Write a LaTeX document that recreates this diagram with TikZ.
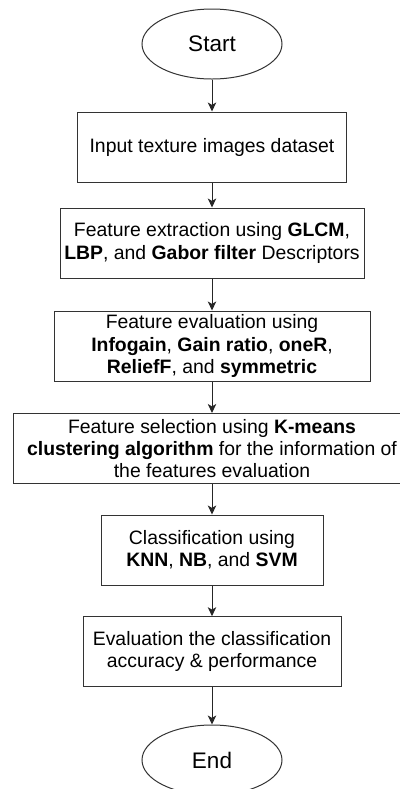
\documentclass[tikz,border=0pt]{standalone}
\usepackage{fontspec}
\setmainfont{Liberation Sans}
\usetikzlibrary{shapes.geometric,arrows.meta}

\tikzset{
    terminal/.style={ellipse, draw=black!80, line width=0.5pt,
        minimum width=70pt, minimum height=35pt, inner sep=0pt,
        font=\fontsize{11.25}{13}\selectfont},
    procbox/.style={rectangle, draw=black!80, line width=0.5pt,
        minimum height=35pt, inner sep=0pt, align=center,
        font=\fontsize{9.7}{11.2}\selectfont},
    flow/.style={-{Stealth[length=4.5pt,width=4.2pt,inset=1.2pt]},
        draw=black!85, line width=0.5pt}
}

\begin{document}
\begin{tikzpicture}[x=0.5pt,y=-0.5pt]
    \useasboundingbox (0,0) rectangle (400,789);

    \node[terminal] (start) at (212,44) {Start};
    \node[procbox, minimum width=134.5pt] (input) at (212,147)
        {Input texture images dataset};
    \node[procbox, minimum width=152pt] (extract) at (212,243)
        {Feature extraction using \textbf{GLCM},\\
         \textbf{LBP}, and \textbf{Gabor filter} Descriptors};
    \node[procbox, minimum width=158pt] (evaluate) at (212,346)
        {Feature evaluation using\\
         \textbf{Infogain}, \textbf{Gain ratio}, \textbf{oneR},\\
         \textbf{ReliefF}, and \textbf{symmetric}};
    % wide box, runs off the right edge
    \node[procbox, minimum width=198.7pt] (select) at (212,448.5)
        {Feature selection using \textbf{K-means}\\
         \textbf{clustering algorithm} for the information of\\
         the features evaluation};
    \node[procbox, minimum width=111pt] (classify) at (212,550)
        {Classification using\\
         \textbf{KNN}, \textbf{NB}, and \textbf{SVM}};
    \node[procbox, minimum width=129pt] (accuracy) at (212,651.7)
        {Evaluation the classification\\
         accuracy \& performance};
    \node[terminal] (end) at (212,760) {End};

    \draw[flow] (start) -- (input);
    \draw[flow] (input) -- (extract);
    \draw[flow] (extract) -- (evaluate);
    \draw[flow] (evaluate) -- (select);
    \draw[flow] (select) -- (classify);
    \draw[flow] (classify) -- (accuracy);
    \draw[flow] (accuracy) -- (end);
\end{tikzpicture}
\end{document}
